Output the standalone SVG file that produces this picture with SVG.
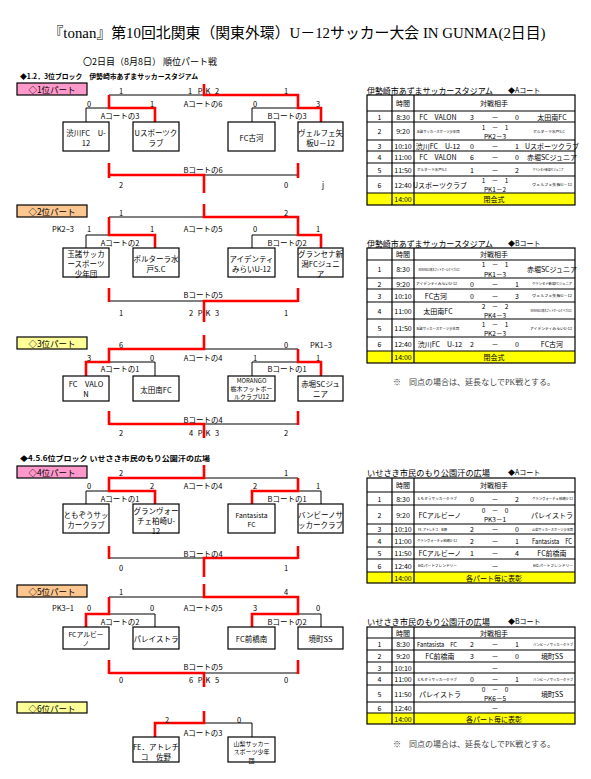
<svg xmlns="http://www.w3.org/2000/svg" width="591" height="779" viewBox="0 0 591 779">
<style>
text{font-family:"Noto Sans CJK JP","Liberation Sans",sans-serif;font-size:7.5px;fill:#000;dominant-baseline:central}
.m{text-anchor:middle}
.ttl{font-family:"Liberation Serif","Noto Sans CJK JP",serif;font-size:15px;text-anchor:middle}
.sub{font-size:9px}
.hd{font-size:7px;font-weight:bold}
.lbl{font-size:8.5px;text-anchor:middle}
.bx{fill:#fff;stroke:#000;stroke-width:1.2}
.bk{fill:none;stroke:#000;stroke-width:1}
.rd{fill:none;stroke:#f00;stroke-width:2.6}
.pink{fill:#ff99cc;stroke:#000;stroke-width:1.2}
.tan{fill:#fcc690;stroke:#000;stroke-width:1.2}
.yel{fill:#ffff99;stroke:#000;stroke-width:1.2}
.cl{fill:#ffff00}
.tb{fill:none;stroke:#000;stroke-width:1.2}
.sm{font-size:6.8px;text-anchor:middle}
.xs{font-size:6px;text-anchor:middle}
.tbl text{font-size:7px}
.tbl .tn{font-size:3.6px;text-anchor:middle}
.tbl .th{font-size:8.5px}
.tbl .sm{font-size:6px}
.tbl .p2{font-size:6.5px}
.note{font-family:"Liberation Serif","Noto Sans CJK JP",serif;font-size:8.2px;fill:#444}
</style>

<text class="ttl" x="297" y="33" textLength="497" lengthAdjust="spacingAndGlyphs">『tonan』第10回北関東（関東外環）U－12サッカー大会 IN GUNMA(2日目)</text>
<text class="sub" x="83" y="61">〇2日目（8月8日） 順位パート戦</text>
<text class="hd" x="20" y="76" textLength="178" lengthAdjust="spacingAndGlyphs">◆1.2．3位ブロック　伊勢崎市あずまサッカースタジアム</text>
<text class="hd" x="20" y="458" textLength="190" lengthAdjust="spacingAndGlyphs">◆4.5.6位ブロック いせさき市民のもり公園汗の広場</text>

<!-- part labels -->
<g id="label1"><rect class="pink" x="17" y="83" width="70" height="12"/><text class="lbl" x="52" y="89">◇1位パート</text></g>
<g id="label2"><rect class="tan" x="17" y="205" width="70" height="12"/><text class="lbl" x="52" y="211">◇2位パート</text></g>
<g id="label3"><rect class="yel" x="17" y="337" width="70" height="12"/><text class="lbl" x="52" y="343">◇3位パート</text></g>
<g id="label4"><rect class="pink" x="17" y="466" width="70" height="12"/><text class="lbl" x="52" y="472">◇4位パート</text></g>
<g id="label5"><rect class="tan" x="17" y="585" width="70" height="12"/><text class="lbl" x="52" y="591">◇5位パート</text></g>
<g id="label6"><rect class="yel" x="17" y="702" width="70" height="11"/><text class="lbl" x="52" y="707.5">◇6位パート</text></g>

<g id="connectors">
<path class="bk" d="M109,95H298M86,122V108H155V122M252,122V108H321V122M109,175H298"/>
<path class="bk" d="M109,217H298M86,248V235H155V248M252,248V235H321V248M109,301H298"/>
<path class="bk" d="M109,349H298M86,376V362H155V376M252,376V362H321V376M109,424H298"/>
<path class="bk" d="M109,478H298M86,504V491H155V504M252,504V491H321V504M109,558H298"/>
<path class="bk" d="M109,597H298M86,627V614H155V627M252,627V614H321V627M109,673H298"/>
<path class="bk" d="M204,723H252V737"/>
<path class="rd" d="M155,122V108H109V95M321,122V108H298V95H204V84M109,163V178M298,163V178M109,175H204V193"/>
<path class="rd" d="M155,248V235H109V217M321,248V235H298V217H204V204M109,288V302M298,288V302M298,301H204V322"/>
<path class="rd" d="M86,376V362H109V349H204V335M321,376V362H298V349M109,411V425M298,411V425M109,424H204V438"/>
<path class="rd" d="M155,504V491H109V478H204V465M252,504V491H298V478M109,546V559M298,546V559M298,558H204V577"/>
<path class="rd" d="M86,627V614H109V597M252,627V614H298V597H204V584M109,660V674M298,660V674M109,673H204V687"/>
<path class="rd" d="M155,737V723H204V711"/>
</g>

<!-- bracket 1 -->
<g id="b1-text">
<text class="m" x="121" y="90">1</text><text class="m" x="190" y="90">1</text><text class="m" x="200" y="90">P</text><text class="m" x="208" y="90">K</text><text class="m" x="217" y="90">2</text><text class="m" x="286" y="90">1</text>
<text class="m" x="89" y="103">0</text><text class="m" x="152" y="103">1</text><text class="m" x="203" y="103">Aコートの6</text><text class="m" x="255" y="103">0</text><text class="m" x="318" y="103">3</text>
<text class="m" x="120" y="115">Aコートの3</text><text class="m" x="287" y="115">Bコートの3</text>
<text class="m" x="203" y="169">Bコートの6</text>
<text class="m" x="121" y="184">2</text><text class="m" x="286" y="184">0</text><text class="m" x="323" y="184">j</text>
</g>
<g id="t1a"><rect class="bx" x="63" y="122" width="46" height="29"/><text class="m" x="86" y="132">渋川FC　U-</text><text class="m" x="86" y="142">12</text></g>
<g id="t1b"><rect class="bx" x="133" y="122" width="46" height="29"/><text class="m" x="156" y="132">Uスポーツク</text><text class="m" x="156" y="142">ラブ</text></g>
<g id="t1c"><rect class="bx" x="228" y="122" width="47" height="29"/><text class="m" x="251.5" y="137">FC古河</text></g>
<g id="t1d"><rect class="bx" x="298" y="122" width="45" height="29"/><text class="m" x="320.5" y="132">ヴェルフェ矢</text><text class="m" x="320.5" y="142">板U－12</text></g>

<!-- bracket 2 -->
<g id="b2-text">
<text class="m" x="121" y="212">1</text><text class="m" x="286" y="212">2</text>
<text class="m" x="63" y="228">PK2−3</text><text class="m" x="89" y="228">1</text><text class="m" x="152" y="228">1</text><text class="m" x="203" y="228">Aコートの5</text><text class="m" x="255" y="228">0</text><text class="m" x="318" y="228">1</text>
<text class="m" x="120" y="242">Aコートの2</text><text class="m" x="287" y="242">Bコートの2</text>
<text class="m" x="203" y="294">Bコートの5</text>
<text class="m" x="121" y="312">1</text><text class="m" x="191" y="312">2</text><text class="m" x="200" y="312">P</text><text class="m" x="208" y="312">K</text><text class="m" x="217" y="312">3</text><text class="m" x="286" y="312">1</text>
</g>
<g id="t2a"><rect class="bx" x="63" y="248" width="46" height="29"/><text class="m" x="86" y="253">玉諸サッカ</text><text class="m" x="86" y="263">ースポーツ</text><text class="m" x="86" y="273">少年団</text></g>
<g id="t2b"><rect class="bx" x="133" y="248" width="46" height="29"/><text class="m" x="156" y="258">ボルターラ水</text><text class="m" x="156" y="268">戸S.C</text></g>
<g id="t2c"><rect class="bx" x="228" y="248" width="47" height="29"/><text class="m" x="251.5" y="258">アイデンティ</text><text class="m" x="251.5" y="268">みらいU-12</text></g>
<g id="t2d"><rect class="bx" x="298" y="248" width="45" height="29"/><text class="m" x="320.5" y="253">グランセナ新</text><text class="m" x="320.5" y="263">潟FCジュニ</text><text class="m" x="320.5" y="273">ア</text></g>

<!-- bracket 3 -->
<g id="b3-text">
<text class="m" x="121" y="344">6</text><text class="m" x="286" y="344">0</text><text class="m" x="321" y="344">PK1−3</text>
<text class="m" x="89" y="357">3</text><text class="m" x="152" y="357">0</text><text class="m" x="203" y="357">Aコートの4</text><text class="m" x="255" y="357">1</text><text class="m" x="318" y="357">1</text>
<text class="m" x="120" y="368">Aコートの1</text><text class="m" x="287" y="368">Bコートの1</text>
<text class="m" x="203" y="419">Bコートの4</text>
<text class="m" x="121" y="432">2</text><text class="m" x="191" y="432">4</text><text class="m" x="200" y="432">P</text><text class="m" x="208" y="432">K</text><text class="m" x="217" y="432">3</text><text class="m" x="286" y="432">2</text>
</g>
<g id="t3a"><rect class="bx" x="63" y="376" width="46" height="25"/><text class="m" x="86" y="383">FC　VALO</text><text class="m" x="86" y="393">N</text></g>
<g id="t3b"><rect class="bx" x="133" y="376" width="46" height="25"/><text class="m" x="156" y="389">太田南FC</text></g>
<g id="t3c"><rect class="bx" x="228" y="376" width="47" height="25"/><text class="xs" x="251.5" y="380.5">MORANGO</text><text class="xs" x="251.5" y="388.5">栃木フットボー</text><text class="xs" x="251.5" y="396.5">ルクラブU12</text></g>
<g id="t3d"><rect class="bx" x="298" y="376" width="45" height="25"/><text class="m" x="320.5" y="383">赤堀SCジュ</text><text class="m" x="320.5" y="393">ニア</text></g>

<!-- bracket 4 -->
<g id="b4-text">
<text class="m" x="121" y="472">2</text><text class="m" x="286" y="472">1</text>
<text class="m" x="89" y="485">0</text><text class="m" x="152" y="485">2</text><text class="m" x="203" y="485">Aコートの4</text><text class="m" x="255" y="485">2</text><text class="m" x="318" y="485">1</text>
<text class="m" x="120" y="498">Aコートの1</text><text class="m" x="287" y="498">Bコートの1</text>
<text class="m" x="203" y="553">Bコートの4</text>
<text class="m" x="121" y="567">0</text><text class="m" x="286" y="567">1</text>
</g>
<g id="t4a"><rect class="bx" x="63" y="504" width="46" height="29"/><text class="m" x="86" y="514">ともぞうサッ</text><text class="m" x="86" y="524">カークラブ</text></g>
<g id="t4b"><rect class="bx" x="133" y="504" width="46" height="29"/><text class="m" x="156" y="510">グランヴォー</text><text class="m" x="156" y="520">チェ柏崎U-</text><text class="m" x="156" y="530">12</text></g>
<g id="t4c"><rect class="bx" x="228" y="504" width="47" height="29"/><text class="sm" x="251.5" y="515">Fantasista</text><text class="sm" x="251.5" y="524">FC</text></g>
<g id="t4d"><rect class="bx" x="298" y="504" width="45" height="29"/><text class="m" x="320.5" y="514">バンビーノサ</text><text class="m" x="320.5" y="524">ッカークラブ</text></g>

<!-- bracket 5 -->
<g id="b5-text">
<text class="m" x="121" y="591">1</text><text class="m" x="286" y="591">4</text>
<text class="m" x="63" y="607">PK3−1</text><text class="m" x="89" y="607">0</text><text class="m" x="152" y="607">0</text><text class="m" x="203" y="607">Aコートの5</text><text class="m" x="255" y="607">3</text><text class="m" x="318" y="607">0</text>
<text class="m" x="120" y="621">Aコートの2</text><text class="m" x="287" y="621">Bコートの2</text>
<text class="m" x="203" y="666">Bコートの5</text>
<text class="m" x="121" y="679">0</text><text class="m" x="191" y="679">6</text><text class="m" x="200" y="679">P</text><text class="m" x="208" y="679">K</text><text class="m" x="217" y="679">5</text><text class="m" x="286" y="679">0</text>
</g>
<g id="t5a"><rect class="bx" x="63" y="627" width="46" height="22"/><text class="sm" x="86" y="633.5">FCアルビー</text><text class="sm" x="86" y="642.5">ノ</text></g>
<g id="t5b"><rect class="bx" x="133" y="627" width="46" height="22"/><text class="m" x="156" y="638">パレイストラ</text></g>
<g id="t5c"><rect class="bx" x="228" y="627" width="47" height="22"/><text class="m" x="251.5" y="638">FC前橋南</text></g>
<g id="t5d"><rect class="bx" x="298" y="627" width="45" height="22"/><text class="m" x="320.5" y="638">境町SS</text></g>

<!-- bracket 6 -->
<g id="b6-text">
<text class="m" x="167" y="719">2</text><text class="m" x="239" y="719">0</text>
<text class="m" x="203" y="732">Aコートの3</text>
</g>
<g id="t6a"><rect class="bx" x="133" y="737" width="46" height="25"/><text class="m" x="156" y="746">FE．アトレチ</text><text class="m" x="156" y="756">コ　佐野</text></g>
<g id="t6b"><rect class="bx" x="228" y="737" width="47" height="25"/><text class="xs" x="251.5" y="743">山梨サッカー</text><text class="xs" x="251.5" y="751.5">スポーツ少年</text><text class="xs" x="251.5" y="760">団</text></g>

<!-- Table A -->
<g id="tableA" class="tbl">
<text class="th" x="367" y="90" textLength="126" lengthAdjust="spacingAndGlyphs">伊勢崎市あずまサッカースタジアム</text><text x="508" y="90">◆Aコート</text>
<rect class="cl" x="367" y="193" width="208" height="12"/>
<rect class="tb" x="367" y="95" width="208" height="110"/>
<path class="tb" d="M367,111H575M367,122H575M367,140H575M367,151H575M367,163H575M367,176H575M367,193H575M392,95V205M414,95V205"/>
<text class="m" x="403" y="103">時間</text><text class="m" x="494" y="103">対戦相手</text>
<text class="m" x="379.5" y="116.5">1</text><text class="m" x="403" y="116.5">8:30</text><text class="m" x="438" y="116.5">FC　VALON</text><text class="m" x="472" y="116.5">3</text><text class="m" x="495" y="116.5">－</text><text class="m" x="517" y="116.5">0</text><text class="m" x="552" y="116.5">太田南FC</text>
<text class="m" x="379.5" y="131">2</text><text class="m" x="403" y="131">9:20</text><text class="tn" x="438" y="131" textLength="43" lengthAdjust="spacingAndGlyphs">玉諸サッカースポーツ少年団</text><text class="m p2" x="495" y="126.5">1　－　1</text><text class="m p2" x="495" y="135.5">PK2－3</text><text class="tn" x="549" y="131" textLength="32" lengthAdjust="spacingAndGlyphs">ボルターラ水戸S.C</text>
<text class="m" x="379.5" y="145.5">3</text><text class="m" x="403" y="145.5">10:10</text><text class="m" x="438" y="145.5">渋川FC　U-12</text><text class="m" x="472" y="145.5">0</text><text class="m" x="495" y="145.5">－</text><text class="m" x="517" y="145.5">1</text><text class="m" x="552" y="145.5">Uスポーツクラブ</text>
<text class="m" x="379.5" y="157">4</text><text class="m" x="403" y="157">11:00</text><text class="m" x="438" y="157">FC　VALON</text><text class="m" x="472" y="157">6</text><text class="m" x="495" y="157">－</text><text class="m" x="517" y="157">0</text><text class="m" x="552" y="157">赤堀SCジュニア</text>
<text class="m" x="379.5" y="169.5">5</text><text class="m" x="403" y="169.5">11:50</text><text class="tn" x="432" y="169.5" textLength="30" lengthAdjust="spacingAndGlyphs">ボルターラ水戸S.C</text><text class="m" x="472" y="169.5">1</text><text class="m" x="495" y="169.5">－</text><text class="m" x="517" y="169.5">2</text><text class="tn" x="548" y="169.5" textLength="31" lengthAdjust="spacingAndGlyphs">グランセナ新潟FCジュニア</text>
<text class="m" x="379.5" y="184.5">6</text><text class="m" x="403" y="184.5">12:40</text><text class="m" x="440" y="184.5">Uスポーツクラブ</text><text class="m p2" x="495" y="180">1　－　1</text><text class="m p2" x="495" y="189">PK1－2</text><text class="tn" x="552" y="184.5" textLength="40" lengthAdjust="spacingAndGlyphs">ヴェルフェ矢板U－12</text>
<text class="m" x="403" y="199">14:00</text><text class="m" x="494" y="199">閉会式</text>
</g>

<!-- Table B -->
<g id="tableB" class="tbl">
<text class="th" x="367" y="243" textLength="126" lengthAdjust="spacingAndGlyphs">伊勢崎市あずまサッカースタジアム</text><text x="508" y="243">◆Bコート</text>
<rect class="cl" x="367" y="351" width="208" height="12"/>
<rect class="tb" x="367" y="248" width="208" height="115"/>
<path class="tb" d="M367,260H575M367,278H575M367,289H575M367,302H575M367,319H575M367,337H575M367,351H575M392,248V363M414,248V363"/>
<text class="m" x="403" y="254">時間</text><text class="m" x="494" y="254">対戦相手</text>
<text class="m" x="379.5" y="269">1</text><text class="m" x="403" y="269">8:30</text><text class="tn" x="439" y="269" textLength="41" lengthAdjust="spacingAndGlyphs">MORANGO栃木フットボールクラブU12</text><text class="m p2" x="495" y="264">1　－　1</text><text class="m p2" x="495" y="273.5">PK1－3</text><text class="m" x="552" y="269">赤堀SCジュニア</text>
<text class="m" x="379.5" y="283.5">2</text><text class="m" x="403" y="283.5">9:20</text><text class="tn" x="436.5" y="283.5" textLength="41" lengthAdjust="spacingAndGlyphs">アイデンティみらいU-12</text><text class="m" x="472" y="283.5">0</text><text class="m" x="495" y="283.5">－</text><text class="m" x="517" y="283.5">1</text><text class="tn" x="552" y="283.5" textLength="40" lengthAdjust="spacingAndGlyphs">グランセナ新潟FCジュニア</text>
<text class="m" x="379.5" y="295.5">3</text><text class="m" x="403" y="295.5">10:10</text><text class="m" x="436" y="295.5">FC古河</text><text class="m" x="472" y="295.5">0</text><text class="m" x="495" y="295.5">－</text><text class="m" x="517" y="295.5">3</text><text class="tn" x="552" y="295.5" textLength="40" lengthAdjust="spacingAndGlyphs">ヴェルフェ矢板U－12</text>
<text class="m" x="379.5" y="310.5">4</text><text class="m" x="403" y="310.5">11:00</text><text class="m" x="438" y="310.5">太田南FC</text><text class="m p2" x="495" y="306">2　－　2</text><text class="m p2" x="495" y="315">PK4－3</text><text class="tn" x="551" y="310.5" textLength="41" lengthAdjust="spacingAndGlyphs">MORANGO栃木フットボールクラブU12</text>
<text class="m" x="379.5" y="328">5</text><text class="m" x="403" y="328">11:50</text><text class="tn" x="437.5" y="328" textLength="43" lengthAdjust="spacingAndGlyphs">玉諸サッカースポーツ少年団</text><text class="m p2" x="495" y="323.5">1　－　1</text><text class="m p2" x="495" y="332.5">PK2－3</text><text class="tn" x="551" y="328" textLength="42" lengthAdjust="spacingAndGlyphs">アイデンティみらいU-12</text>
<text class="m" x="379.5" y="344">6</text><text class="m" x="403" y="344">12:40</text><text class="m" x="440" y="344">渋川FC　U-12</text><text class="m" x="472" y="344">2</text><text class="m" x="495" y="344">－</text><text class="m" x="517" y="344">0</text><text class="m" x="552" y="344">FC古河</text>
<text class="m" x="403" y="357">14:00</text><text class="m" x="494" y="357">閉会式</text>
</g>
<text class="note" x="393" y="382" textLength="162" lengthAdjust="spacingAndGlyphs">※　同点の場合は、延長なしでPK戦とする。</text>

<!-- Table C -->
<g id="tableC" class="tbl">
<text class="th" x="367" y="472" textLength="123" lengthAdjust="spacingAndGlyphs">いせさき市民のもり公園汗の広場</text><text x="508" y="472">◆Aコート</text>
<rect class="cl" x="367" y="572" width="208" height="11"/>
<rect class="tb" x="367" y="478" width="208" height="105"/>
<path class="tb" d="M367,492H575M367,505H575M367,524H575M367,534H575M367,547H575M367,559H575M367,572H575M392,478V583M414,478V583"/>
<text class="m" x="403" y="485">時間</text><text class="m" x="494" y="485">対戦相手</text>
<text class="m" x="379.5" y="498.5">1</text><text class="m" x="403" y="498.5">8:30</text><text class="tn" x="437" y="498.5" textLength="40" lengthAdjust="spacingAndGlyphs">ともぞうサッカークラブ</text><text class="m" x="472" y="498.5">0</text><text class="m" x="495" y="498.5">－</text><text class="m" x="517" y="498.5">2</text><text class="tn" x="552.5" y="498.5" textLength="41" lengthAdjust="spacingAndGlyphs">グランヴォーチェ柏崎U-12</text>
<text class="m" x="379.5" y="514.5">2</text><text class="m" x="403" y="514.5">9:20</text><text class="m" x="440" y="514.5">FCアルビーノ</text><text class="m p2" x="495" y="510">0　－　0</text><text class="m p2" x="495" y="519">PK3－1</text><text class="m" x="552" y="514.5">パレイストラ</text>
<text class="m" x="379.5" y="529">3</text><text class="m" x="403" y="529">10:10</text><text class="tn" x="432.5" y="529" textLength="29" lengthAdjust="spacingAndGlyphs">FE. アトレチコ　佐野</text><text class="m" x="472" y="529">2</text><text class="m" x="495" y="529">－</text><text class="m" x="517" y="529">0</text><text class="tn" x="552.5" y="529" textLength="41" lengthAdjust="spacingAndGlyphs">山梨サッカースポーツ少年団</text>
<text class="m" x="379.5" y="540.5">4</text><text class="m" x="403" y="540.5">11:00</text><text class="tn" x="437" y="540.5" textLength="40" lengthAdjust="spacingAndGlyphs">グランヴォーチェ柏崎U-12</text><text class="m" x="472" y="540.5">2</text><text class="m" x="495" y="540.5">－</text><text class="m" x="517" y="540.5">1</text><text class="m" x="552" y="540.5" textLength="40" lengthAdjust="spacingAndGlyphs">Fantasista　FC</text>
<text class="m" x="379.5" y="553">5</text><text class="m" x="403" y="553">11:50</text><text class="m" x="440" y="553">FCアルビーノ</text><text class="m" x="472" y="553">1</text><text class="m" x="495" y="553">－</text><text class="m" x="517" y="553">4</text><text class="m" x="552" y="553">FC前橋南</text>
<text class="m" x="379.5" y="565.5">6</text><text class="m" x="403" y="565.5">12:40</text><text class="tn" x="437.5" y="565.5" textLength="39" lengthAdjust="spacingAndGlyphs">6位パートフレンドリー</text><text class="m" x="495" y="565.5">－</text><text class="tn" x="553" y="565.5" textLength="40" lengthAdjust="spacingAndGlyphs">6位パートフレンドリー</text>
<text class="m" x="403" y="577.5">14:00</text><text class="m" x="494" y="577.5">各パート毎に表彰</text>
</g>

<!-- Table D -->
<g id="tableD" class="tbl">
<text class="th" x="367" y="621" textLength="123" lengthAdjust="spacingAndGlyphs">いせさき市民のもり公園汗の広場</text><text x="508" y="621">◆Bコート</text>
<rect class="cl" x="367" y="713" width="208" height="11"/>
<rect class="tb" x="367" y="627" width="208" height="97"/>
<path class="tb" d="M367,638H575M367,650H575M367,662H575M367,673H575M367,685H575M367,702H575M367,713H575M392,627V724M414,627V724"/>
<text class="m" x="403" y="632.5">時間</text><text class="m" x="494" y="632.5">対戦相手</text>
<text class="m" x="379.5" y="644">1</text><text class="m" x="403" y="644">8:30</text><text class="sm" x="437" y="644" textLength="40" lengthAdjust="spacingAndGlyphs">Fantasista　FC</text><text class="m" x="472" y="644">2</text><text class="m" x="495" y="644">－</text><text class="m" x="517" y="644">1</text><text class="tn" x="553" y="644" textLength="40" lengthAdjust="spacingAndGlyphs">バンビーノサッカークラブ</text>
<text class="m" x="379.5" y="656">2</text><text class="m" x="403" y="656">9:20</text><text class="m" x="440" y="656">FC前橋南</text><text class="m" x="472" y="656">3</text><text class="m" x="495" y="656">－</text><text class="m" x="517" y="656">0</text><text class="m" x="552" y="656">境町SS</text>
<text class="m" x="379.5" y="667.5">3</text><text class="m" x="403" y="667.5">10:10</text><text class="m" x="495" y="667.5">－</text>
<text class="m" x="379.5" y="679">4</text><text class="m" x="403" y="679">11:00</text><text class="tn" x="437" y="679" textLength="40" lengthAdjust="spacingAndGlyphs">ともぞうサッカークラブ</text><text class="m" x="472" y="679">0</text><text class="m" x="495" y="679">－</text><text class="m" x="517" y="679">1</text><text class="tn" x="553" y="679" textLength="40" lengthAdjust="spacingAndGlyphs">バンビーノサッカークラブ</text>
<text class="m" x="379.5" y="693.5">5</text><text class="m" x="403" y="693.5">11:50</text><text class="m" x="440" y="693.5">パレイストラ</text><text class="m p2" x="495" y="689">0　－　0</text><text class="m p2" x="495" y="698">PK6－5</text><text class="m" x="552" y="693.5">境町SS</text>
<text class="m" x="379.5" y="707.5">6</text><text class="m" x="403" y="707.5">12:40</text><text class="m" x="495" y="707.5">－</text>
<text class="m" x="403" y="718.5">14:00</text><text class="m" x="494" y="718.5">各パート毎に表彰</text>
</g>
<text class="note" x="393" y="744" textLength="162" lengthAdjust="spacingAndGlyphs">※　同点の場合は、延長なしでPK戦とする。</text>
</svg>
